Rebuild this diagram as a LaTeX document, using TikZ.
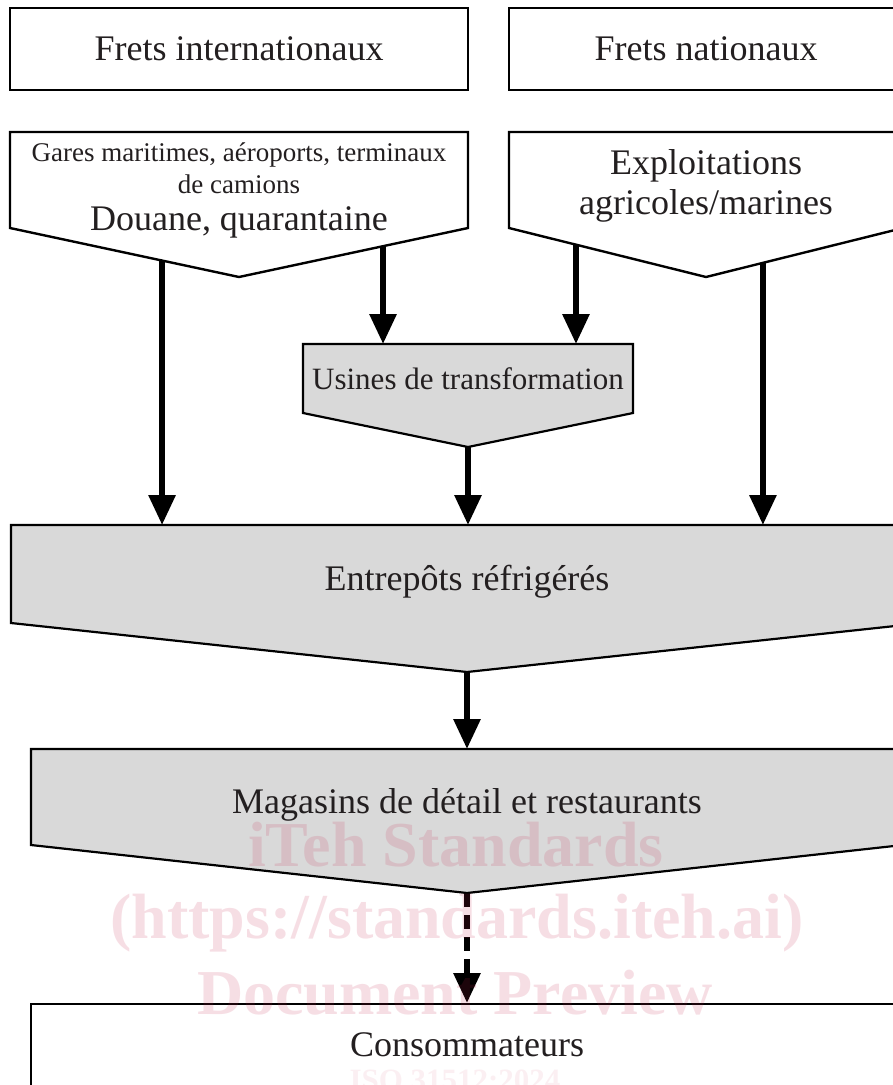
\documentclass[tikz,border=0pt]{standalone}
\usepackage{fontspec}
\setmainfont{Liberation Serif}
\usetikzlibrary{arrows.meta,calc,backgrounds}
\definecolor{boxgrey}{RGB}{217,217,217}
\definecolor{textgrey}{RGB}{35,31,32}
\definecolor{wmpink}{RGB}{200,40,80}
\newcommand{\bigtext}{\fontsize{36}{40}\selectfont}
\newcommand{\smalltext}{\fontsize{27}{31}\selectfont}
\tikzset{
  flownode/.style = {align=center, inner sep=0pt, outer sep=0pt, text=textgrey,
    font=\bigtext},
  whitebox/.style = {draw=black, fill=white, line width=2.4pt},
  greybox/.style = {draw=black, fill=boxgrey, line width=2.2pt},
  flowarrow/.style = {line width=6pt, -{Triangle[length=30pt,width=26pt]}},
  watermark/.style = {font=\bfseries\fontsize{64}{70}\selectfont, text=wmpink,
    text opacity=0.15, inner sep=0pt}
}

\begin{document}
\begin{tikzpicture}[x=1pt, y=-1pt]
    \begin{scope}[on background layer]
        \fill[white] (0,0) rectangle (893,1085);
    \end{scope}
    \useasboundingbox (0,0) rectangle (893,1085);

    % sources
    \node [flownode, whitebox, minimum width=458, minimum height=82] (intl) at (239,49) {Frets internationaux};
    \node [flownode, whitebox, minimum width=394, minimum height=82] (natl) at (706,49) {Frets nationaux};

    \node [flownode, minimum width=458, minimum height=96] (gares) at (239,180) {};
    \node [flownode] (gares text) at ([yshift=-10pt]gares.center)
        {\smalltext Gares maritimes, aéroports, terminaux\\[-8pt]
         \smalltext de camions\\[-3pt]
         \bigtext Douane, quarantaine};
    \node [flownode, minimum width=394, minimum height=96] (exploit) at (706,180) {};
    \node [flownode] (exploit text) at ([yshift=-6pt]exploit.center) {Exploitations\\ agricoles/marines};
    \node [flownode, font=\fontsize{31}{35}\selectfont, minimum width=330, minimum height=69] (usines) at (468,378.5)
        {Usines de transformation};
    \node [flownode, minimum width=912, minimum height=98] (entrepots) at (467,574) {};
    \node [flownode] (entrepots text) at ([yshift=-8pt]entrepots.center) {Entrepôts réfrigérés};
    \node [flownode, minimum width=872, minimum height=96] (magasins) at (467,797) {};
    \node [flownode] (magasins text) at ([yshift=-8pt]magasins.center) {Magasins de détail et restaurants};
    \node [whitebox, minimum width=872, minimum height=150, anchor=north] (consbox) at (467,1003) {};
    \node [flownode] (cons) at ([yshift=-42pt]consbox.north) {Consommateurs};

    \coordinate (gares tip) at ([yshift=-49pt]gares.south);
    \coordinate (exploit tip) at ([yshift=-49pt]exploit.south);
    \coordinate (usines tip) at ([yshift=-34pt]usines.south);
    \coordinate (entrepots tip) at ([yshift=-49pt]entrepots.south);
    \coordinate (magasins tip) at ([yshift=-48pt]magasins.south);

    \begin{scope}[on background layer]
        \draw [whitebox] (gares.north west) -- (gares.north east) -- (gares.south east)
            -- (gares tip) -- (gares.south west) -- cycle;
        \draw [whitebox] (exploit.north west) -- (exploit.north east) -- (exploit.south east)
            -- (exploit tip) -- (exploit.south west) -- cycle;
        \draw [greybox] (usines.north west) -- (usines.north east) -- (usines.south east)
            -- (usines tip) -- (usines.south west) -- cycle;
        \draw [greybox] (entrepots.north west) -- (entrepots.north east) -- (entrepots.south east)
            -- (entrepots tip) -- (entrepots.south west) -- cycle;
        \draw [greybox] (magasins.north west) -- (magasins.north east) -- (magasins.south east)
            -- (magasins tip) -- (magasins.south west) -- cycle;
    \end{scope}

    % flows
    \coordinate (g1) at ($(gares.south west)!0.664!(gares tip)$);
    \coordinate (g2) at ($(gares tip)!0.629!(gares.south east)$);
    \coordinate (e1) at ($(exploit.south west)!0.34!(exploit tip)$);
    \coordinate (e2) at ($(exploit tip)!0.289!(exploit.south east)$);
    \draw [flowarrow] (g1) -- (g1 |- entrepots.north);
    \draw [flowarrow] (g2) -- (g2 |- usines.north);
    \draw [flowarrow] (e1) -- (e1 |- usines.north);
    \draw [flowarrow] (e2) -- (e2 |- entrepots.north);
    \draw [flowarrow] (usines tip) -- (usines tip |- entrepots.north);
    \draw [flowarrow] (entrepots tip) -- (entrepots tip |- magasins.north);
    \draw [flowarrow, dash pattern=on 14pt off 8pt] (magasins tip) -- (magasins tip |- consbox.north);

    % watermark
    \node [watermark] (wm1) at (456,845) {iTeh Standards};
    \node [watermark] (wm2) at (457,923) {(https://standards.iteh.ai)};
    \node [watermark] (wm3) at (455,993) {Document Preview};
    \node [watermark, font=\bfseries\fontsize{31}{35}\selectfont, text opacity=0.07] (wm4) at (455,1080) {ISO 31512:2024};
\end{tikzpicture}
\end{document}
